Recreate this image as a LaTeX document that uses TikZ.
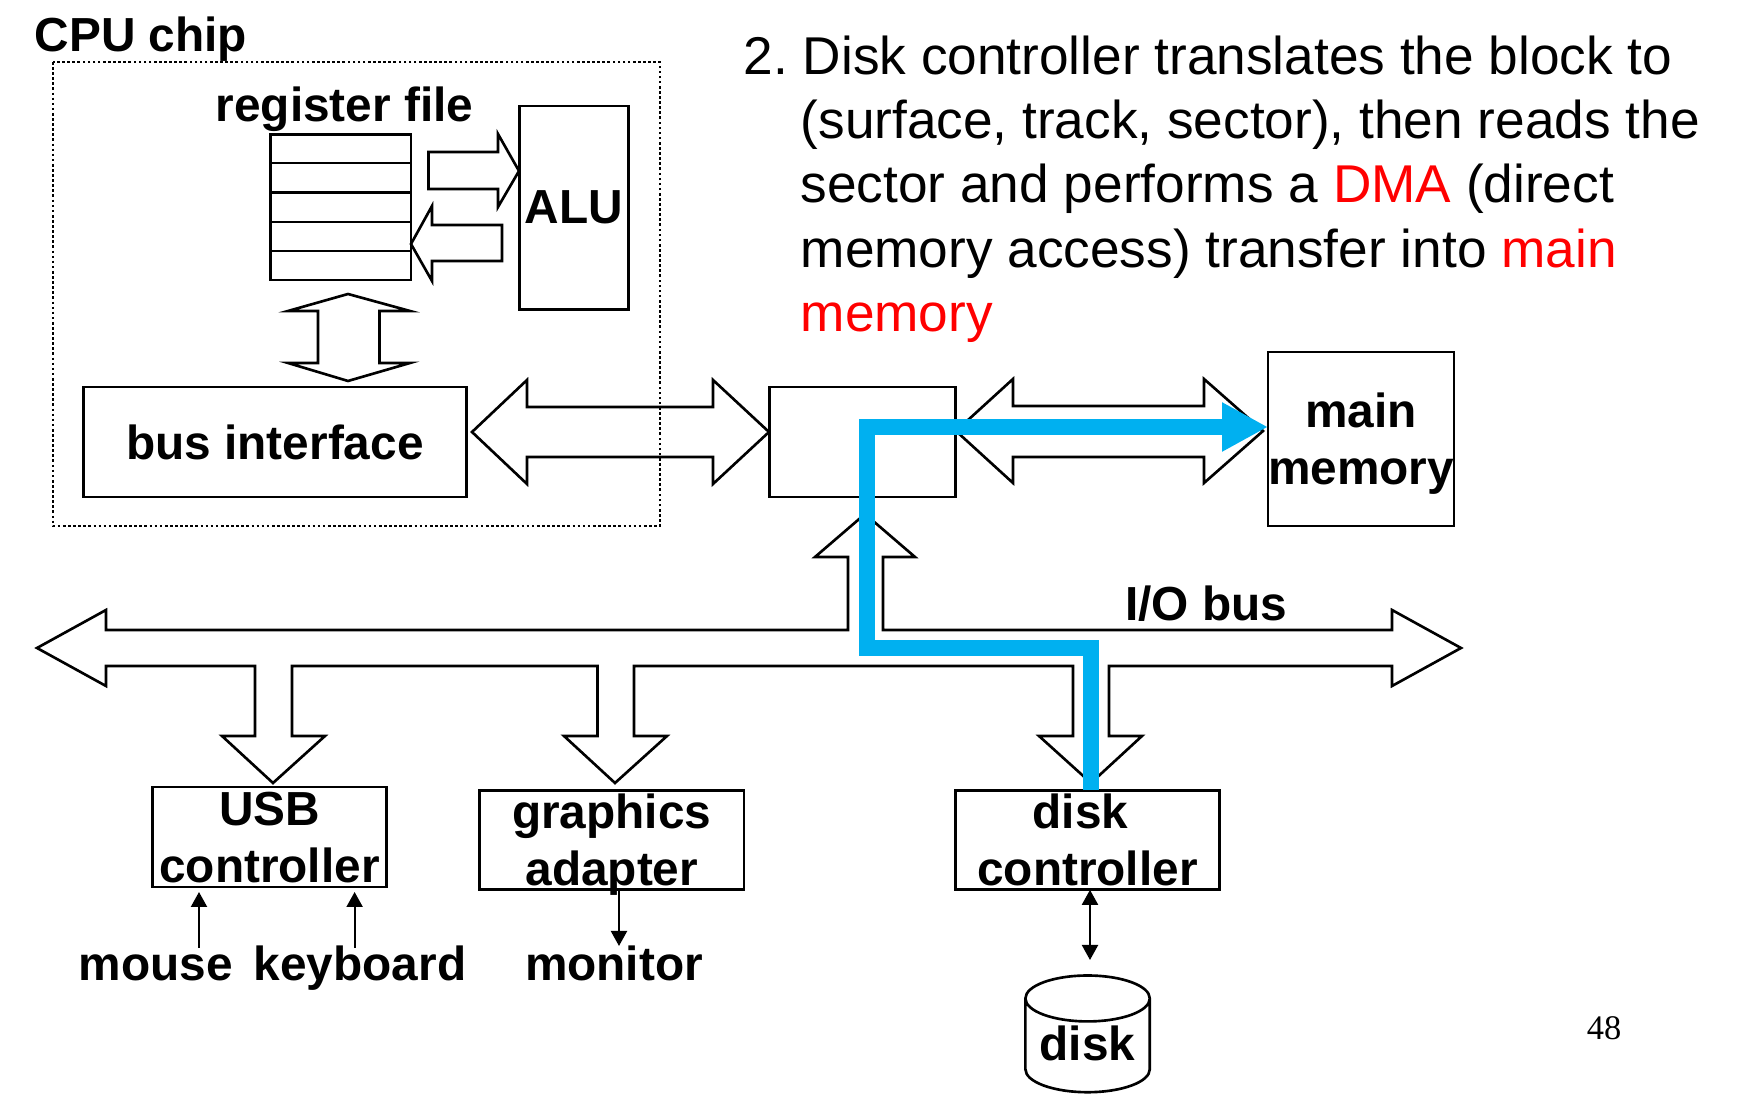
\documentclass[tikz,border=0pt]{standalone}
\usepackage{fontspec}
\setmainfont{Liberation Sans}
\newfontfamily\pageNumFont{Liberation Serif}
\usepackage{xcolor}
\usetikzlibrary{arrows.meta,shapes.geometric}
\definecolor{dmaBlue}{HTML}{00B0F0}
\definecolor{noteRed}{HTML}{FF0000}
\newcommand{\partFont}{\fontsize{13.6pt}{16.3pt}\selectfont\bfseries}
\tikzset{
  unitBox/.style={
    rectangle,
    draw=black,
    line width=0.8pt,
    inner sep=0pt,
    outer sep=0pt,
    align=center,
    font=\partFont
  },
  partLabel/.style={
    inner sep=0pt,
    anchor=base,
    font=\partFont
  },
  chipBorder/.style={
    draw=black,
    line width=0.75pt,
    dash pattern=on 0.75pt off 0.7pt
  },
  fatArrow/.style={
    draw=black,
    line width=0.75pt
  },
  thinArrow/.style={
    -{Triangle[length=1.5mm,width=1.6mm]},
    line width=0.6pt,
    draw=black
  },
  thinBothArrow/.style={
    {Triangle[length=1.5mm,width=1.6mm]}-{Triangle[length=1.5mm,width=1.6mm]},
    line width=0.6pt,
    draw=black
  },
  dmaArrow/.style={
    -{Triangle[length=4.6mm,width=4.6mm]},
    line width=4.5pt,
    draw=dmaBlue
  }
}
\begin{document}
\begin{tikzpicture}
  \useasboundingbox (0,0) rectangle (17.37,-11.15);

  \draw[fatArrow] (4.72,-4.32) -- (5.27,-3.80) -- (5.27,-4.07) -- (7.13,-4.07) -- (7.13,-3.80) -- (7.69,-4.32) -- (7.13,-4.84) -- (7.13,-4.57) -- (5.27,-4.57) -- (5.27,-4.84) -- cycle;
  \draw[fatArrow] (9.56,-4.31) -- (10.13,-3.79) -- (10.13,-4.06) -- (12.04,-4.06) -- (12.04,-3.79) -- (12.63,-4.31) -- (12.04,-4.83) -- (12.04,-4.57) -- (10.13,-4.57) -- (10.13,-4.83) -- cycle;
  \draw[fatArrow] (4.285,-1.52) -- (4.98,-1.52) -- (4.98,-1.34) -- (5.19,-1.71) -- (4.98,-2.07) -- (4.98,-1.89) -- (4.285,-1.89) -- cycle;
  \draw[fatArrow] (5.02,-2.25) -- (4.32,-2.25) -- (4.32,-2.06) -- (4.11,-2.44) -- (4.32,-2.81) -- (4.32,-2.61) -- (5.02,-2.61) -- cycle;
  \draw[fatArrow] (3.48,-2.94) -- (4.10,-3.11) -- (3.795,-3.11) -- (3.795,-3.63) -- (4.10,-3.63) -- (3.48,-3.81) -- (2.88,-3.63) -- (3.18,-3.63) -- (3.18,-3.11) -- (2.88,-3.11) -- cycle;
  \draw[fatArrow] (0.37,-6.48) -- (1.06,-6.10) -- (1.06,-6.30) -- (8.48,-6.30) -- (8.48,-5.57) -- (8.15,-5.57) -- (8.65,-5.14) -- (9.15,-5.57) -- (8.83,-5.57) -- (8.83,-6.30) -- (13.92,-6.30) -- (13.92,-6.10) -- (14.61,-6.48) -- (13.92,-6.86) -- (13.92,-6.66) -- (11.09,-6.66) -- (11.09,-7.36) -- (11.42,-7.36) -- (10.91,-7.83) -- (10.39,-7.36) -- (10.73,-7.36) -- (10.73,-6.66) -- (6.34,-6.66) -- (6.34,-7.36) -- (6.67,-7.36) -- (6.15,-7.83) -- (5.64,-7.36) -- (5.975,-7.36) -- (5.975,-6.66) -- (2.92,-6.66) -- (2.92,-7.36) -- (3.25,-7.36) -- (2.73,-7.83) -- (2.22,-7.36) -- (2.55,-7.36) -- (2.55,-6.66) -- (1.06,-6.66) -- (1.06,-6.86) -- cycle;

  \draw[chipBorder] (0.53,-0.62) rectangle (6.60,-5.26);

  \node[unitBox,minimum width=1.405cm,minimum height=1.455cm] (regs) at (3.4075,-2.0725) {};
  \foreach \rowY in {-1.63,-1.925,-2.22,-2.51} {
    \draw[line width=0.8pt] (regs.west |- 0,\rowY) -- (regs.east |- 0,\rowY);
  }
  \node[unitBox,minimum width=1.09cm,minimum height=2.035cm] (alu) at (5.74,-2.0775) {ALU};
  \node[unitBox,minimum width=3.83cm,minimum height=1.10cm] (busIf) at (2.75,-4.42) {bus interface};
  \node[unitBox,minimum width=1.865cm,minimum height=1.10cm] (bridge) at (8.625,-4.42) {};
  \node[unitBox,minimum width=1.855cm,minimum height=1.74cm] (mem) at (13.61,-4.39) {main\\\smash{memory}};
  \node[unitBox,minimum width=2.34cm,minimum height=1.00cm] (usb) at (2.695,-8.37) {USB\\\smash{controller}};
  \node[unitBox,minimum width=2.644cm,minimum height=0.997cm] (gfx) at (6.118,-8.40) {graphics\\\smash{adapter}};
  \node[unitBox,minimum width=2.637cm,minimum height=0.997cm] (diskCtrl) at (10.875,-8.40) {disk\hspace*{0.14cm}\\\smash{controller}};
  \node[cylinder,shape border rotate=90,aspect=0.48,draw=black,line width=0.75pt,inner sep=0pt,outer sep=0pt,minimum width=1.244cm,minimum height=1.167cm,font=\partFont] (disk) at (10.876,-10.46) {\raisebox{0.05cm}{disk}};

  \node[partLabel,anchor=base west] (chipName) at (0.34,-0.52) {CPU chip};
  \node[partLabel] (regsName) at (3.445,-1.22) {register file};
  \node[partLabel] (busName) at (12.06,-6.21) {I/O bus};
  \node[partLabel] (mouse) at (1.56,-9.81) {mouse};
  \node[partLabel] (keyboard) at (3.60,-9.81) {keyboard};
  \node[partLabel] (monitor) at (6.14,-9.81) {monitor};
  \node[inner sep=0pt,anchor=base,font=\pageNumFont\fontsize{9.8pt}{12pt}\selectfont] (pageNum) at (16.04,-10.40) {48};

  \node[inner sep=0pt,anchor=north west,align=left,font=\fontsize{15.14pt}{18.3pt}\selectfont] (note) at (7.43,-0.35) {2.\ Disk controller translates the block to\\
    \hspace*{0.57cm}(surface, track, sector), then reads the\\
    \hspace*{0.57cm}sector and performs a \textcolor{noteRed}{DMA} (direct\\
    \hspace*{0.57cm}memory access) transfer into \textcolor{noteRed}{main}\\
    \hspace*{0.57cm}\textcolor{noteRed}{memory}};

  \coordinate (mouseOut) at (1.99,-9.48);
  \coordinate (keyOut) at (3.546,-9.48);
  \coordinate (monitorIn) at (6.19,-9.46);
  \coordinate (diskIn) at (10.90,-9.60);
  \draw[thinArrow,shorten >=0.05cm] (mouseOut) -- (mouseOut |- usb.south);
  \draw[thinArrow,shorten >=0.05cm] (keyOut) -- (keyOut |- usb.south);
  \draw[thinArrow] (monitorIn |- gfx.south) -- (monitorIn);
  \draw[thinBothArrow] (diskIn |- diskCtrl.south) -- (diskIn);

  \coordinate (dmaDrop) at (10.91,-6.48);
  \coordinate (dmaBend) at (8.67,-6.48);
  \coordinate (dmaTop) at (8.67,-4.27);
  \draw[dmaArrow] (dmaDrop |- diskCtrl.north) -- (dmaDrop) -- (dmaBend) -- (dmaTop) -- (mem.west |- dmaTop);
\end{tikzpicture}
\end{document}
